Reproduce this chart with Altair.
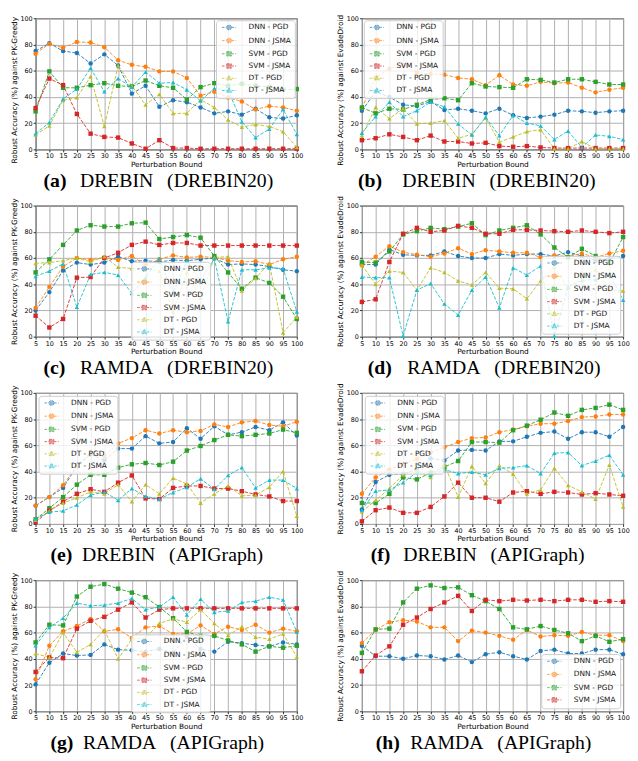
import altair as alt
import pandas as pd

X = list(range(5, 101, 5))
SERIES = ["DNN - PGD", "DNN - JSMA", "SVM - PGD", "SVM - JSMA", "DT - PGD", "DT - JSMA"]
COLORS = ["#1f77b4", "#ff7f0e", "#2ca02c", "#d62728", "#bcbd22", "#17becf"]
MARKERS = ["circle", "circle", "square", "square", "triangle-up", "triangle-up"]
LEGEND_SYMBOLS = [
    "M-2.9,0H-1M1,0H2.9M1,0A1,1,0,1,1,-1,0A1,1,0,1,1,1,0Z",
    "M-2.9,0H-1M1,0H2.9M1,0A1,1,0,1,1,-1,0A1,1,0,1,1,1,0Z",
    "M-2.9,0H-0.9M0.9,0H2.9M-0.9,-0.9H0.9V0.9H-0.9Z",
    "M-2.9,0H-0.9M0.9,0H2.9M-0.9,-0.9H0.9V0.9H-0.9Z",
    "M-2.9,0H-1M1,0H2.9M0,-1.1L1,0.7H-1Z",
    "M-2.9,0H-1M1,0H2.9M0,-1.1L1,0.7H-1Z",
]

# (a) DREBIN (DREBIN20), PK-Greedy
A = {
    "DNN - PGD": [75, 81, 75, 73.5, 65.5, 72.5, 64, 42.5, 48.5, 32.5, 37.5, 36, 32, 27.5, 29, 26.5, 31, 24.5, 23.5, 26],
    "DNN - JSMA": [73, 80.5, 77.5, 82, 81.5, 78, 68, 64.5, 63, 59.5, 59.5, 54.5, 41, 44, 39.5, 36.5, 30.5, 33, 32, 29.5],
    "SVM - PGD": [29, 59.5, 47, 47, 49, 50.5, 48.5, 48, 52.5, 48.5, 47, 38, 47.5, 50.5, 48.5, 50, 48.5, 47.5, 45.5, 46],
    "SVM - JSMA": [31.5, 54, 49, 27, 12, 9.5, 9, 4.5, 0.5, 7, 1, 1, 0.5, 0.5, 0.5, 0.5, 0.5, 0.5, 0.5, 0.5],
    "DT - PGD": [11, 18, 37.5, 39.5, 55.5, 17.5, 64, 48.5, 34, 42, 27.5, 27.5, 38, 32, 22.5, 17, 19, 17.5, 13.5, 1.5],
    "DT - JSMA": [12, 20.5, 38.5, 46, 62, 44, 54, 47.5, 59, 50.5, 51, 45.5, 37, 46.5, 45, 21, 9, 15.5, 30.5, 11.5],
}
# (b) DREBIN (DREBIN20), EvadeDroid
B = {
    "DNN - PGD": [29.5, 44, 40, 34, 33, 36.5, 30, 31, 29.5, 27.5, 31, 26, 24, 25, 26.5, 29.5, 29, 28, 29, 29.5],
    "DNN - JSMA": [31.5, 55, 61.5, 64.5, 58.5, 57.5, 57, 54.5, 53.5, 49, 56.5, 49.5, 48.5, 51.5, 50.5, 51, 47, 43.5, 45.5, 47],
    "SVM - PGD": [32, 27.5, 31, 30.5, 34, 38, 39, 37.5, 50.5, 48, 47.5, 47, 53.5, 53, 51, 53.5, 53.5, 51.5, 49.5, 49.5],
    "SVM - JSMA": [7, 8.5, 11.5, 9.5, 7, 10.5, 6, 6, 4.5, 5, 2.5, 2, 2.5, 1.5, 1, 1, 1, 1, 1, 1],
    "DT - PGD": [10.5, 32, 23.5, 31, 19.5, 20, 22, 8.5, 11.5, 24, 5.5, 9.5, 13.5, 15, 0.5, 0.5, 6, 0.5, 0.5, 0.5],
    "DT - JSMA": [12.5, 25, 36, 25, 29.5, 36, 32.5, 19.5, 11, 24.5, 10.5, 26, 20, 18, 7.5, 14, 1.5, 11, 10, 7.5],
}
# (c) RAMDA (DREBIN20), PK-Greedy
C = {
    "DNN - PGD": [20, 34, 50.5, 56.5, 55, 56.5, 61, 57.5, 58, 57, 58.5, 58, 59, 60, 55, 55.5, 55, 53.5, 51, 50],
    "DNN - JSMA": [22, 38, 53.5, 60, 58.5, 60.5, 58.5, 61.5, 54.5, 59, 62, 60.5, 61, 60.5, 58, 57, 57.5, 55, 59, 61],
    "SVM - PGD": [49, 59, 70, 81, 85, 84, 84, 86.5, 87, 74.5, 76, 77.5, 75.5, 61.5, 49, 36.5, 45, 41, 30.5, 13.5],
    "SVM - JSMA": [16, 7, 13.5, 45, 45.5, 60, 64, 70, 72.5, 70, 71.5, 71.5, 69.5, 69.5, 69.5, 69.5, 69.5, 69.5, 69.5, 69.5],
    "DT - PGD": [56, 56.5, 58, 60, 57, 61, 53, 52, 52, 50, 19, 49, 29.5, 60.5, 61, 35, 44.5, 56, 3, 15],
    "DT - JSMA": [46, 50, 55.5, 22.5, 47.5, 49, 47, 33, 45, 59.5, 33, 58, 43, 59.5, 11.5, 51, 51, 52.5, 52, 19],
}
# (d) RAMDA (DREBIN20), EvadeDroid
D = {
    "DNN - PGD": [55, 55, 66.5, 62.5, 62, 62, 65, 61.5, 60, 60, 63, 62, 63, 63, 61.5, 64.5, 61.5, 58, 59.5, 61.5],
    "DNN - JSMA": [54.5, 61, 69, 64.5, 62.5, 61, 63.5, 67.5, 63, 66, 65, 64, 64, 60.5, 62, 61, 63.5, 60.5, 63.5, 65.5],
    "SVM - PGD": [57, 56.5, 65, 78, 80.5, 83, 82, 84, 86.5, 77.5, 81, 83, 85, 78, 68, 60.5, 67, 61.5, 56, 76],
    "SVM - JSMA": [26.5, 28.5, 57, 78.5, 83, 80, 81, 84.5, 83, 78.5, 78.5, 81.5, 81.5, 81, 80.5, 80, 81, 80, 79, 80],
    "DT - PGD": [54.5, 40, 50, 49, 35.5, 52.5, 49, 42.5, 39.5, 49, 37, 36.5, 29, 42.5, 53, 37, 45.5, 51, 35.5, 35],
    "DT - JSMA": [45.5, 45, 45, 0.5, 35.5, 40.5, 25, 16.5, 35.5, 45.5, 22, 52.5, 47, 54, 0.5, 38, 43, 43.5, 48, 28],
}
# (e) DREBIN (APIGraph), PK-Greedy
E = {
    "DNN - PGD": [14, 20.5, 27.5, 44, 53, 48.5, 57.5, 57.5, 67, 61.5, 62.5, 73, 65, 74.5, 68, 70, 74, 71.5, 77.5, 67.5],
    "DNN - JSMA": [14, 20.5, 29.5, 44.5, 54.5, 51.5, 61.5, 65.5, 71.5, 69, 71.5, 70, 71, 76, 74, 77.5, 78.5, 75.5, 74.5, 78],
    "SVM - PGD": [3.5, 12, 20.5, 30, 37.5, 37.5, 43, 45.5, 46.5, 45, 47.5, 56, 59.5, 64, 68, 67, 68, 69, 72, 69.5],
    "SVM - JSMA": [1.5, 10, 17, 23, 26.5, 24.5, 31.5, 37, 19.5, 19, 27.5, 29, 29, 27, 27, 25, 22.5, 21, 17.5, 17.5],
    "DT - PGD": [3, 10, 16, 20, 24.5, 23, 30, 17, 30, 23, 35, 30.5, 16, 23, 29, 21.5, 22, 28, 40, 6],
    "DT - JSMA": [4, 9, 10, 14.5, 22, 24.5, 18, 27, 21, 19, 24, 28, 34.5, 26.5, 37, 43, 27.5, 33.5, 33.5, 27],
}
# (f) DREBIN (APIGraph), EvadeDroid
F = {
    "DNN - PGD": [11, 32, 37.5, 38, 42, 50, 48.5, 56, 56.5, 56, 63, 63, 66.5, 69.5, 70.5, 65, 70, 70, 66.5, 74],
    "DNN - JSMA": [23, 35.5, 41.5, 45.5, 49.5, 54.5, 58.5, 62.5, 65.5, 66, 70, 72, 74.5, 76.5, 76.5, 78.5, 81.5, 82, 83.5, 83.5],
    "SVM - PGD": [16, 16, 23, 35.5, 34, 39, 43.5, 48, 62.5, 62.5, 62, 71.5, 75, 79.5, 85, 82.5, 87, 88.5, 91, 87],
    "SVM - JSMA": [2, 10.5, 12.5, 8.5, 8.5, 13, 21, 31.5, 20, 20, 17, 24, 25, 23, 24.5, 24, 22.5, 23.5, 22.5, 21.5],
    "DT - PGD": [9.5, 18, 27, 37.5, 41, 35.5, 45, 20.5, 44, 31, 44.5, 38, 23, 26, 42.5, 29.5, 24.5, 19, 45, 13],
    "DT - JSMA": [10.5, 25, 26, 31.5, 39.5, 37, 41.5, 38.5, 39.5, 37.5, 42.5, 43, 44.5, 38.5, 54, 54.5, 44.5, 48, 52.5, 37.5],
}
# (g) RAMDA (APIGraph), PK-Greedy
G = {
    "DNN - PGD": [20.5, 37, 44, 42.5, 43, 51, 47, 46.5, 45.5, 47.5, 44.5, 57, 47.5, 45.5, 53, 52, 50.5, 49.5, 52.5, 51],
    "DNN - JSMA": [24.5, 50, 61, 65, 70.5, 61, 62.5, 56, 64, 65, 59, 59, 65.5, 59, 64.5, 62, 66, 60, 63, 61],
    "SVM - PGD": [52.5, 66, 65.5, 87.5, 95, 97, 93.5, 90.5, 87, 79.5, 71, 60.5, 57.5, 57.5, 54, 51, 45.5, 49.5, 48.5, 50],
    "SVM - JSMA": [30, 41, 40.5, 63, 69, 72, 77.5, 83, 71.5, 77.5, 78.5, 78.5, 78.5, 78.5, 78.5, 78.5, 78.5, 78.5, 78.5, 78.5],
    "DT - PGD": [44, 41, 60, 45, 51, 62, 40, 55, 56, 67, 70.5, 68, 77.5, 67, 58, 64.5, 56.5, 55, 59, 41.5],
    "DT - JSMA": [50, 64, 71, 82.5, 80.5, 81, 82.5, 86, 77.5, 79.5, 87, 73.5, 85.5, 75.5, 76.5, 83, 84, 87, 85, 60.5],
}
# (h) RAMDA (APIGraph), EvadeDroid
H = {
    "DNN - PGD": [50, 42, 42, 40, 42.5, 42, 39.5, 42.5, 37.5, 43.5, 45, 42, 39.5, 46, 47, 44, 44, 47, 47, 43.5],
    "DNN - JSMA": [52, 62, 68, 69.5, 68.5, 64, 64, 53.5, 61.5, 60, 57.5, 54.5, 62, 57, 58, 57.5, 60.5, 58, 58, 53.5],
    "SVM - PGD": [44.5, 62.5, 63, 83, 93.5, 96, 94, 94.5, 88.5, 84, 78, 64, 62.5, 65, 62, 59.5, 53.5, 57.5, 53, 55],
    "SVM - JSMA": [30.5, 42.5, 49.5, 66, 71.5, 78, 83, 88, 76.5, 85, 84, 85, 84.5, 85, 84, 85, 85, 83.5, 84, 83.5],
}

YT_PK = "Robust Accuracy (%) against PK-Greedy"
YT_ED = "Robust Accuracy (%) against EvadeDroid"

W, HGT = 265, 133
AX_FONT = "DejaVu Sans"
CAP_FONT = "Liberation Serif"


def panel(series, ytitle, leg, label, rest, cx1, cx2, title_shift=0):
    rows = []
    for name, vals in series.items():
        for xv, yv in zip(X, vals):
            rows.append({"x": xv, "y": yv, "series": name})
    df = pd.DataFrame(rows)
    names = list(series.keys())
    idx = [SERIES.index(n) for n in names]
    cols = [COLORS[i] for i in idx]
    marks = [MARKERS[i] for i in idx]
    lsym = [LEGEND_SYMBOLS[i] for i in idx]

    xenc = alt.X("x:Q", scale=alt.Scale(domain=[5, 100], nice=False, zero=False),
                 axis=alt.Axis(values=X, title="Perturbation Bound", labelOverlap=False,
                               labelFlush=False))
    yaxis_kw = dict(values=[0, 20, 40, 60, 80, 100], title=ytitle)
    if title_shift:
        yaxis_kw["titleY"] = HGT / 2 + title_shift
    yenc = alt.Y("y:Q", scale=alt.Scale(domain=[0, 100], nice=False),
                 axis=alt.Axis(**yaxis_kw))
    cscale = alt.Scale(domain=names, range=cols)
    base = alt.Chart(df)
    lines = base.mark_line(strokeDash=[3.6, 1.6], strokeWidth=1, opacity=0.9).encode(
        x=xenc, y=yenc, color=alt.Color("series:N", scale=cscale, legend=None))
    points = base.mark_point(filled=True, size=20, opacity=1).encode(
        x=xenc, y=yenc, color=alt.Color("series:N", scale=cscale, legend=None),
        shape=alt.Shape("series:N", scale=alt.Scale(domain=names, range=marks), legend=None))
    lg = alt.Legend(title=None, labelFont=AX_FONT, labelFontSize=7.5, labelColor="#111111",
                    symbolSize=25, symbolStrokeWidth=1, symbolDash=[2.6, 1.4],
                    symbolOffset=6, labelOffset=16, rowPadding=3.4, padding=3.5,
                    fillColor="rgba(255,255,255,0.8)", strokeColor="#cccccc",
                    cornerRadius=3, **leg)
    proxy = base.transform_filter("datum.x < 0").mark_point(filled=True, size=25).encode(
        x=xenc, y=yenc,
        fill=alt.Fill("series:N", scale=alt.Scale(domain=names, range=cols), legend=lg),
        stroke=alt.Stroke("series:N", scale=alt.Scale(domain=names, range=cols), legend=lg),
        shape=alt.Shape("series:N", scale=alt.Scale(domain=names, range=lsym), legend=lg))
    cap1 = alt.Chart(pd.DataFrame({"t": [label]})).mark_text(
        font=CAP_FONT, fontSize=20, fontWeight="bold", align="left", baseline="alphabetic",
        color="black").encode(x=alt.value(cx1), y=alt.value(171), text="t:N")
    cap2 = alt.Chart(pd.DataFrame({"t": [rest]})).mark_text(
        font=CAP_FONT, fontSize=20, align="left", baseline="alphabetic",
        color="black").encode(x=alt.value(cx2), y=alt.value(171), text="t:N")
    return alt.layer(lines, points, proxy, cap1, cap2).resolve_scale(
        shape="independent", fill="independent", stroke="independent"
    ).properties(width=W, height=HGT)


SP = "\u2002\u2009"
pa = panel(A, YT_PK, dict(orient="top-right", offset=2), "(a)", "DREBIN" + SP + "(DREBIN20)", 8, 45, title_shift=6)
pb = panel(B, YT_ED, dict(orient="top-left", offset=2), "(b)", "DREBIN" + SP + "(DREBIN20)", -4, 41, title_shift=6)
pc = panel(C, YT_PK, dict(orient="none", legendX=97, legendY=57), "(c)", "RAMDA" + SP + "(DREBIN20)", 8, 45)
pd_ = panel(D, YT_ED, dict(orient="bottom-right", offset=3), "(d)", "RAMDA" + SP + "(DREBIN20)", 6, 46)
pe = panel(E, YT_PK, dict(orient="top-left", offset=3), "(e)", "DREBIN" + SP + "(APIGraph)", 15, 47)
pf = panel(F, YT_ED, dict(orient="top-left", offset=3), "(f)", "DREBIN" + SP + "(APIGraph)", 9, 42)
pg = panel(G, YT_PK, dict(orient="none", legendX=97, legendY=55), "(g)", "RAMDA" + SP + "(APIGraph)", 15, 48)
ph = panel(H, YT_ED, dict(orient="bottom-right", offset=3), "(h)", "RAMDA" + SP + "(APIGraph)", 14, 49)

chart = alt.concat(
    pa, pb, pc, pd_, pe, pf, pg, ph,
    columns=2,
    spacing=alt.RowColnumber(row=57, column=66),
    bounds="flush",
).properties(
    padding={"left": 2, "top": 0, "right": 0, "bottom": 0}
).configure_view(
    stroke="black", strokeWidth=1
).configure_axis(
    labelFont=AX_FONT, titleFont=AX_FONT, labelFontSize=6.5, titleFontSize=7.5,
    labelColor="black", titleColor="black", titleFontWeight="normal",
    tickSize=2.5, tickColor="black", tickWidth=0.8, labelPadding=1,
    domain=False, grid=True, gridColor="#b0b0b0", gridWidth=1, gridOpacity=1,
).configure_axisX(titlePadding=1).configure_axisY(titlePadding=1.5)

chart.save("out.html", embed_options={"renderer": "svg", "actions": False})
